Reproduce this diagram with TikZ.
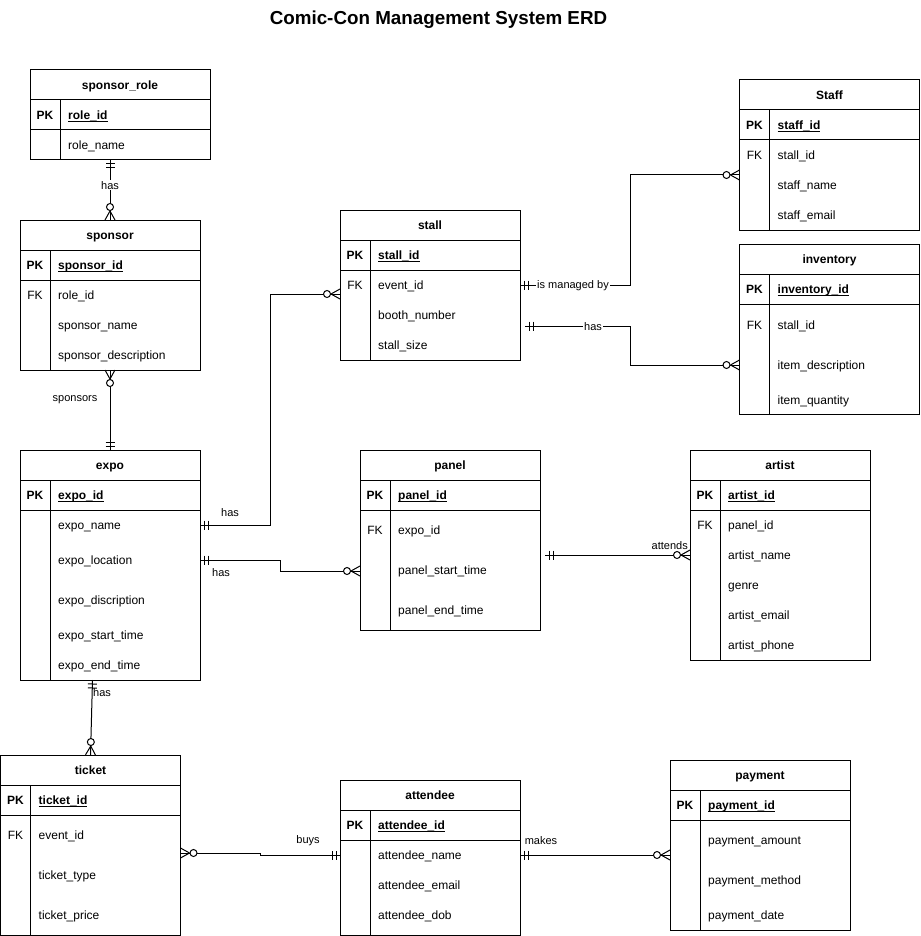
\documentclass[tikz,border=0pt]{standalone}
\usepackage{fontspec}
\setmainfont{Liberation Sans}
\usetikzlibrary{arrows.meta,calc}

\pgfdeclarearrow{
  name = crowzero,
  setup code = {
    \pgfarrowssettipend{0pt}
    \pgfarrowssetlineend{0pt}
    \pgfarrowssetbackend{-17pt}
    \pgfarrowssetvisualbackend{-17pt}
    \pgfarrowshullpoint{0pt}{5pt}
    \pgfarrowshullpoint{0pt}{-5pt}
    \pgfarrowshullpoint{-17pt}{0pt}
  },
  drawing code = {
    \pgfsetdash{}{0pt}
    \pgfpathmoveto{\pgfpoint{-9pt}{0pt}}
    \pgfpathlineto{\pgfpoint{0pt}{5pt}}
    \pgfpathmoveto{\pgfpoint{-9pt}{0pt}}
    \pgfpathlineto{\pgfpoint{0pt}{-5pt}}
    \pgfusepathqstroke
    \pgfsetfillcolor{white}
    \pgfpathcircle{\pgfpoint{-13pt}{0pt}}{3.5pt}
    \pgfusepathqfillstroke
  }
}
\pgfdeclarearrow{
  name = mone,
  setup code = {
    \pgfarrowssettipend{0pt}
    \pgfarrowssetlineend{0pt}
    \pgfarrowssetbackend{-9pt}
    \pgfarrowssetvisualbackend{-9pt}
    \pgfarrowshullpoint{0pt}{5pt}
    \pgfarrowshullpoint{0pt}{-5pt}
    \pgfarrowshullpoint{-9pt}{0pt}
  },
  drawing code = {
    \pgfsetdash{}{0pt}
    \pgfpathmoveto{\pgfpoint{-4pt}{-4.5pt}}
    \pgfpathlineto{\pgfpoint{-4pt}{4.5pt}}
    \pgfpathmoveto{\pgfpoint{-8pt}{-4.5pt}}
    \pgfpathlineto{\pgfpoint{-8pt}{4.5pt}}
    \pgfusepathqstroke
  }
}

\newcommand\pkul[1]{\setbox0\hbox{#1}\rlap{\rule[-2.3pt]{\wd0}{0.9pt}}\box0}

\tikzset{
  tbl/.style={draw, line width=1pt, minimum width=180pt, inner sep=0pt, outer sep=0pt},
  tline/.style={line width=1pt},
  basetxt/.style={inner sep=0pt, text height=8.3pt, text depth=0pt},
  hdr/.style={basetxt, font=\bfseries\fontsize{12}{14}\selectfont},
  keypk/.style={basetxt, font=\bfseries\fontsize{12}{14}\selectfont},
  keyfk/.style={basetxt, font=\fontsize{12}{14}\selectfont},
  pktxt/.style={basetxt, anchor=west, font=\bfseries\fontsize{12}{14}\selectfont},
  fld/.style={basetxt, anchor=west, font=\fontsize{12}{14}\selectfont},
  lbl/.style={inner sep=1pt, font=\fontsize{11}{13}\selectfont},
  lblbg/.style={lbl, fill=white},
  conn/.style={line width=1pt, draw=black},
}

% #1 name, #2 x, #3 y, #4 height, #5 title, #6 pk field
\newcommand\ertable[6]{%
  \node[tbl, minimum height=#4pt, anchor=north west] (#1) at (#2,#3) {};
  \draw[tline] (#2,#3+30) -- ++(180,0);
  \draw[tline] (#2,#3+60) -- ++(180,0);
  \draw[tline] (#2+30,#3+30) -- (#2+30,#3+#4);
  \node[hdr] (#1-title) at (#2+90,#3+15) {#5};
  \node[keypk] (#1-pkkey) at (#2+15,#3+45) {PK};
  \node[pktxt] (#1-pk) at (#2+38,#3+45) {\pkul{#6}};
}
% #1 name, #2 table x, #3 y, #4 text
\newcommand\erfield[4]{%
  \node[fld] (#1) at (#2+38,#3) {#4};
}
% #1 name, #2 table x, #3 y
\newcommand\erfk[3]{%
  \node[keyfk] (#1) at (#2+15,#3) {FK};
}

\begin{document}
\begin{tikzpicture}[x=1pt,y=-1pt]
\useasboundingbox (0,0) rectangle (920,936);

\node[font=\bfseries\fontsize{18.8}{22}\selectfont, inner sep=0pt] (title) at (438.5,20) {Comic-Con Management System ERD};

% sponsor_role
\ertable{sponsorrole}{30}{70}{90}{sponsor\_role}{role\_id}
\erfield{sr-name}{30}{145}{role\_name}

% sponsor
\ertable{sponsor}{20}{220}{150}{sponsor}{sponsor\_id}
\erfk{sp-fk}{20}{295}
\erfield{sp-role}{20}{295}{role\_id}
\erfield{sp-name}{20}{325}{sponsor\_name}
\erfield{sp-desc}{20}{355}{sponsor\_description}

% expo
\ertable{expo}{20}{450}{230}{expo}{expo\_id}
\erfield{ex-name}{20}{525}{expo\_name}
\erfield{ex-loc}{20}{560}{expo\_location}
\erfield{ex-desc}{20}{600}{expo\_discription}
\erfield{ex-start}{20}{635}{expo\_start\_time}
\erfield{ex-end}{20}{665}{expo\_end\_time}

% ticket
\ertable{ticket}{0.5}{755}{180}{ticket}{ticket\_id}
\erfk{tk-fk}{0.5}{835}
\erfield{tk-ev}{0.5}{835}{event\_id}
\erfield{tk-type}{0.5}{875}{ticket\_type}
\erfield{tk-price}{0.5}{915}{ticket\_price}

% stall
\ertable{stall}{340}{210}{150}{stall}{stall\_id}
\erfk{st-fk}{340}{285}
\erfield{st-ev}{340}{285}{event\_id}
\erfield{st-booth}{340}{315}{booth\_number}
\erfield{st-size}{340}{345}{stall\_size}

% panel
\ertable{panel}{360}{450}{180}{panel}{panel\_id}
\erfk{pn-fk}{360}{530}
\erfield{pn-expo}{360}{530}{expo\_id}
\erfield{pn-start}{360}{570}{panel\_start\_time}
\erfield{pn-end}{360}{610}{panel\_end\_time}

% Staff
\ertable{staff}{739.5}{80}{150}{Staff}{staff\_id}
\erfk{sf-fk}{739.5}{155}
\erfield{sf-stall}{739.5}{155}{stall\_id}
\erfield{sf-name}{739.5}{185}{staff\_name}
\erfield{sf-email}{739.5}{215}{staff\_email}

% inventory
\ertable{inventory}{739.5}{244}{170}{inventory}{inventory\_id}
\erfk{iv-fk}{739.5}{325}
\erfield{iv-stall}{739.5}{325}{stall\_id}
\erfield{iv-desc}{739.5}{365}{item\_description}
\erfield{iv-qty}{739.5}{400}{item\_quantity}

% artist
\ertable{artist}{690}{450}{210}{artist}{artist\_id}
\erfk{ar-fk}{690}{525}
\erfield{ar-panel}{690}{525}{panel\_id}
\erfield{ar-name}{690}{555}{artist\_name}
\erfield{ar-genre}{690}{585}{genre}
\erfield{ar-email}{690}{615}{artist\_email}
\erfield{ar-phone}{690}{645}{artist\_phone}

% attendee
\ertable{attendee}{340}{780}{155}{attendee}{attendee\_id}
\erfield{at-name}{340}{855}{attendee\_name}
\erfield{at-email}{340}{885}{attendee\_email}
\erfield{at-dob}{340}{915}{attendee\_dob}

% payment
\ertable{payment}{670}{760}{170}{payment}{payment\_id}
\erfield{pm-amount}{670}{840}{payment\_amount}
\erfield{pm-method}{670}{880}{payment\_method}
\erfield{pm-date}{670}{915}{payment\_date}

% ---------- connectors ----------
\draw[conn,{mone}-{crowzero}] (sponsorrole.south -| sponsor.north) -- node[lblbg,pos=0.42] (l-srhas) {has} (sponsor.north);

\draw[conn,{crowzero}-{mone}] (sponsor.south) -- (expo.north);
\node[lbl] (l-sponsors) at (75,400) {sponsors};

\draw[conn,{mone}-{crowzero}] (expo.east |- ex-name) -| (270,294) -- (stall.west |- 0,294);
\node[lbl] (l-exst) at (230,513) {has};

\draw[conn,{mone}-{crowzero}] (expo.east |- ex-loc) -| (280,571) -- (panel.west |- 0,571);
\node[lbl] (l-expn) at (221,573) {has};

\draw[conn,{mone}-{crowzero}] ($(expo.south -| ticket.north)+(2,0)$) -- (ticket.north);
\node[lbl,anchor=west] (l-extk) at (92,693) {has};

\draw[conn,{mone}-{crowzero}] (stall.east |- st-ev) -| (630,175) -- (staff.west |- 0,175);
\node[lblbg] (l-stsf) at (573,286) {is managed by};

\draw[conn,shorten <=5pt,{mone}-{crowzero}] (stall.east |- 0,326) -| (630,365) -- (inventory.west |- 0,365);
\node[lblbg] (l-stiv) at (593,327) {has};

\draw[conn,shorten <=5pt,{mone}-{crowzero}] (panel.east |- 0,555) -- (artist.west |- 0,555);
\node[lbl,anchor=east] (l-pnar) at (689,546) {attends};

\draw[conn,{crowzero}-{mone}] (ticket.east |- 0,853) -- (260,853) -- (260,855) -- (attendee.west |- 0,855);
\node[lbl] (l-tkat) at (308,841) {buys};

\draw[conn,{mone}-{crowzero}] (attendee.east |- 0,855) -- (payment.west |- 0,855);
\node[lbl] (l-atpm) at (541,841) {makes};

\end{tikzpicture}
\end{document}
